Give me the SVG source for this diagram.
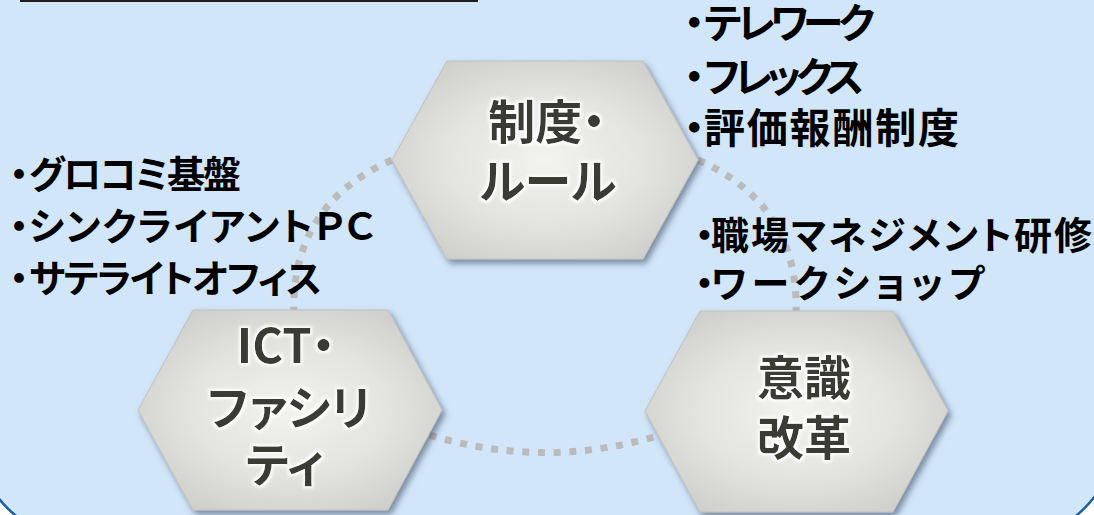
<svg xmlns="http://www.w3.org/2000/svg" width="1094" height="515" viewBox="0 0 1094 515">
<style>
.hexshape{fill:url(#hexfill);stroke:#C2C2BE;stroke-width:1;filter:url(#shadow)}
.hextext{font-family:"Noto Sans CJK JP","Noto Sans",sans-serif;font-weight:700;font-size:47px;fill:#3A3A35;text-anchor:middle;font-feature-settings:"palt";filter:url(#glow)}
.list{font-family:"Noto Sans CJK JP","Noto Sans",sans-serif;font-weight:700;fill:#000;font-feature-settings:"palt"}
.l38{font-size:38px}
.l41{font-size:41px}
.dots{fill:none;stroke:#BBBBBB;stroke-width:7;stroke-dasharray:7 8.7}
</style>
<defs>
<radialGradient id="hexfill" cx="0.5" cy="0.5" r="0.6">
<stop offset="0" stop-color="#F2F2EE"/>
<stop offset="0.55" stop-color="#E3E3DF"/>
<stop offset="1" stop-color="#CDCDC9"/>
</radialGradient>
<filter id="shadow" x="-10%" y="-10%" width="125%" height="130%">
<feDropShadow dx="3" dy="4" stdDeviation="3" flood-color="#2F3F55" flood-opacity="0.55"/>
</filter>
<filter id="glow" x="-10%" y="-20%" width="120%" height="140%">
<feMorphology in="SourceAlpha" operator="dilate" radius="1.5" result="d"/>
<feGaussianBlur in="d" stdDeviation="1.5" result="b"/>
<feFlood flood-color="#FFFFFF" flood-opacity="0.95"/>
<feComposite in2="b" operator="in" result="g"/>
<feMerge><feMergeNode in="g"/><feMergeNode in="SourceGraphic"/></feMerge>
</filter>
</defs>
<rect x="0" y="0" width="1094" height="515" fill="#FFFFFF"/>
<g id="background">
<rect x="-28" y="-200" width="1148" height="743" rx="120" ry="120" fill="#D2E6FA" stroke="#1F5FA0" stroke-width="2.5"/>
<rect x="20" y="0" width="458" height="2" fill="#1E1E1E"/>
</g>
<g id="connectors">
<path class="dots" d="M392,160 Q290,205 294,315"/>
<path class="dots" d="M400,425 Q545,480 690,425"/>
<path class="dots" d="M698,160 Q800,205 796,315"/>
</g>
<g id="node-seido">
<polygon class="hexshape" points="392,160 447,61 643,61 698,160 643,259 447,259"/>
<text class="hextext" x="547" y="139">制度・</text>
<text class="hextext" x="548" y="198">ルール</text>
</g>
<g id="node-ict">
<polygon class="hexshape" points="138,410 193,310 388,310 442,410 388,510 193,510"/>
<text class="hextext" x="286" y="363">ICT・</text>
<text class="hextext" x="289" y="425">ファシリ</text>
<text class="hextext" x="285" y="482">ティ</text>
</g>
<g id="node-ishiki">
<polygon class="hexshape" points="645,411 700,311 893,311 948,411 893,512 700,512"/>
<text class="hextext" x="804" y="395">意識</text>
<text class="hextext" x="804" y="455">改革</text>
</g>
<g id="list-ict">
<text class="list l38" y="188"><tspan x="9.5">・</tspan><tspan x="29" textLength="212">グロコミ基盤</tspan></text>
<text class="list l38" y="240"><tspan x="9.5">・</tspan><tspan x="29" textLength="346">シンクライアントＰＣ</tspan></text>
<text class="list l38" y="292"><tspan x="9.5">・</tspan><tspan x="29" textLength="293">サテライトオフィス</tspan></text>
</g>
<g id="list-seido">
<text class="list l41" y="38"><tspan x="684">・</tspan><tspan x="704" textLength="171">テレワーク</tspan></text>
<text class="list l41" y="92"><tspan x="684">・</tspan><tspan x="704" textLength="160">フレックス</tspan></text>
<text class="list l41" y="143"><tspan x="684">・</tspan><tspan x="704" textLength="255">評価報酬制度</tspan></text>
</g>
<g id="list-ishiki">
<text class="list l38" y="249"><tspan x="695">・</tspan><tspan x="711" textLength="381">職場マネジメント研修</tspan></text>
<text class="list l38" y="297"><tspan x="695">・</tspan><tspan x="711" textLength="273">ワークショップ</tspan></text>
</g>
</svg>
